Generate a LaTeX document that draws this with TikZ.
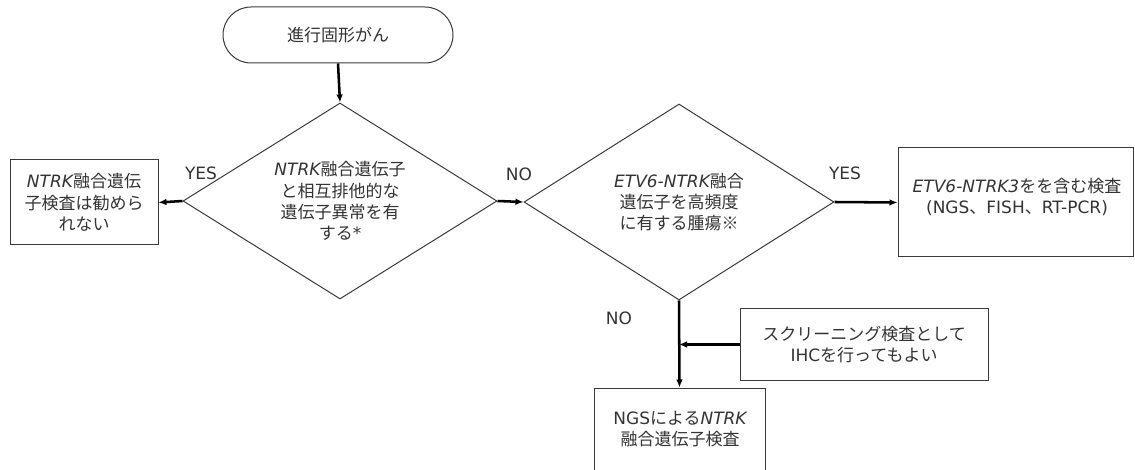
\documentclass[tikz,border=0pt]{standalone}
\usepackage{fontspec}
\setmainfont{Noto Sans CJK JP}
\newfontfamily\lat{DejaVu Sans}
\usetikzlibrary{shapes.geometric,arrows.meta}
\definecolor{txt}{HTML}{333333}
\definecolor{edge}{HTML}{3A3A3A}
\newcommand{\la}[1]{{\lat #1}}
\newcommand{\li}[1]{{\lat\itshape #1}}
\tikzset{
  base/.style={font=\fontsize{12.75pt}{16pt}\selectfont, text=txt, align=center},
  box/.style={base, draw=edge, line width=0.75pt, rectangle, inner sep=0pt},
  decision/.style={base, draw=edge, line width=0.75pt, diamond, aspect=1.6, inner sep=0pt},
  terminal/.style={base, draw=edge, line width=0.75pt, rectangle, rounded corners=21pt, inner sep=0pt},
  lbl/.style={base, inner sep=0pt},
  flow/.style={draw=black, line width=1.9pt, -{Latex[length=6pt,width=5pt]}}
}
\begin{document}
\begin{tikzpicture}[x=0.75pt,y=-0.75pt]
\useasboundingbox (0,0) rectangle (1135,470);
\node[terminal, minimum width=172.5pt, minimum height=42pt] (start) at (338,35) {進行固形がん};
\node[decision, minimum width=235.5pt, minimum height=147pt] (d1) at (340,201)
  {\li{NTRK}融合遺伝子\\と相互排他的な\\遺伝子異常を有\\する\la{*}};
\node[box, minimum width=111pt, minimum height=63.75pt] (left) at (84,202.5)
  {\li{NTRK}融合遺伝\\子検査は勧めら\\れない};
\node[decision, minimum width=232.5pt, minimum height=147pt] (d2) at (679,202)
  {\li{ETV6-NTRK}融合\\遺伝子を高頻度\\に有する腫瘍※};
\node[box, minimum width=176.25pt, minimum height=81.75pt] (right) at (1015.5,202.5) {};
\node[lbl] (righttext) at (1017,197) {\li{ETV6-NTRK3}をを含む検査\\\la{(NGS}、\la{FISH}、\la{RT-PCR)}};
\node[box, minimum width=186pt, minimum height=53.25pt] (screen) at (864,344.5)
  {スクリーニング検査として\\\la{IHC}を行ってもよい};
\node[box, minimum width=128.25pt, minimum height=90pt] (ngs) at (679.5,448) {};
\node[lbl] (ngstext) at (680,429) {\la{NGS}による\li{NTRK}\\融合遺伝子検査};
\coordinate (join) at (d2.south |- screen.west);
\node[lbl] (yes1) at (201,173) {\la{YES}};
\node[lbl] (no1) at (519,174) {\la{NO}};
\node[lbl] (yes2) at (845,173) {\la{YES}};
\node[lbl] (no2) at (619,318) {\la{NO}};
\draw[flow] (start.south) -- (d1.north);
\draw[flow] (d1.west) -- (left.east);
\draw[flow] (d1.east) -- (d2.west);
\draw[flow] (d2.east) -- (right.west);
\draw[flow] (d2.south) -- (ngs.north);
\draw[flow] (screen.west) -- (join);
\end{tikzpicture}
\end{document}
